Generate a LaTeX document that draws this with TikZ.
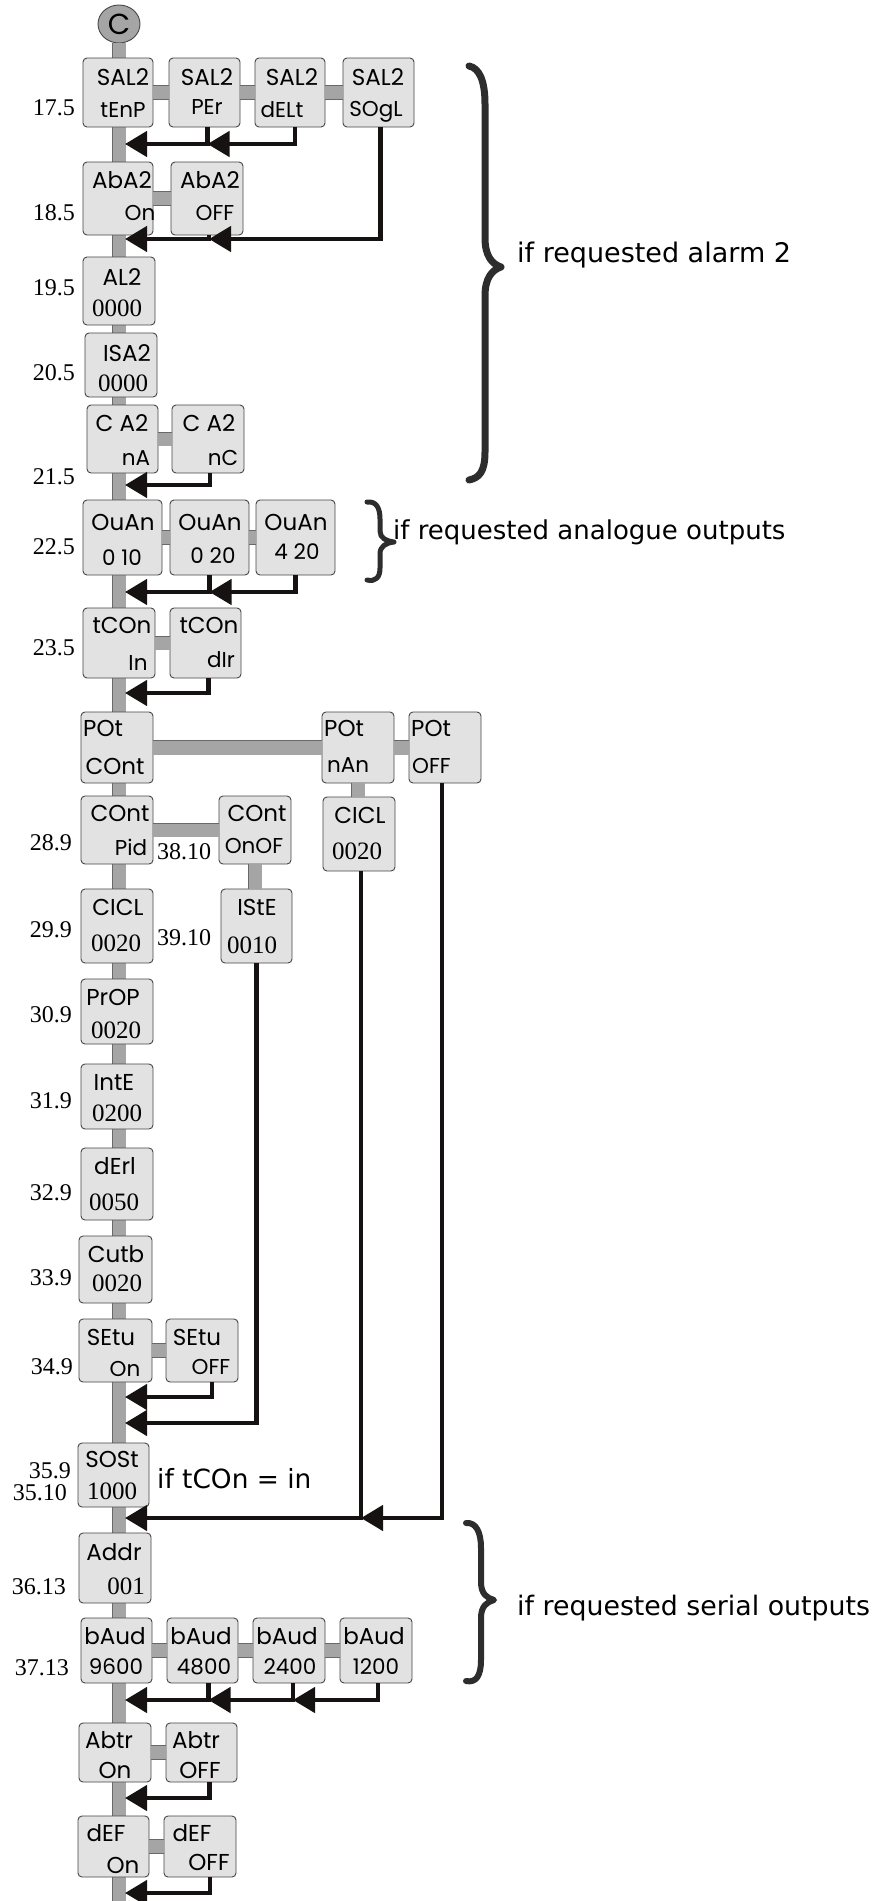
\documentclass[tikz,border=0pt]{standalone}
\usepackage{fontspec}
\usetikzlibrary{arrows.meta,shapes.geometric}
\newfontfamily\geo{Poppins}
\newfontfamily\ser{Liberation Serif}
\newfontfamily\com{DejaVu Sans}
\definecolor{boxfill}{RGB}{226,226,226}
\definecolor{boxline}{RGB}{70,70,70}
\definecolor{barfill}{RGB}{165,165,165}
\definecolor{barline}{RGB}{105,105,105}
\definecolor{arrowcol}{RGB}{22,18,18}
\definecolor{bracecol}{RGB}{45,45,45}
\tikzset{
 pbox/.style={draw=boxline, fill=boxfill, line width=0.9pt, rounded corners=4pt, inner sep=0pt, outer sep=0pt},
 gbar/.style={draw=barline, line width=0.6pt, double=barfill, double distance=13pt},
 sa/.style={font=\geo\fontsize{23}{23}\selectfont, inner sep=0pt},
 sb/.style={font=\geo\fontsize{21.5}{21.5}\selectfont, inner sep=0pt},
 sd/.style={font=\geo\fontsize{21.5}{21.5}\selectfont, inner sep=0pt},
 nb/.style={font=\ser\fontsize{25}{25}\selectfont, inner sep=0pt},
 lbl/.style={font=\ser\fontsize{24}{24}\selectfont, inner sep=0pt, anchor=east},
 lblw/.style={font=\ser\fontsize{24}{24}\selectfont, inner sep=0pt, anchor=west},
 note/.style={font=\com\fontsize{25}{25}\selectfont, inner sep=0pt, anchor=base west},
 arr/.style={draw=arrowcol, line width=4.5pt, -{Triangle[length=22pt,width=25pt]}},
 brc/.style={draw=bracecol, line width=7pt, line cap=round, line join=round},
}
\newcommand\pbx[5]{\node[pbox, minimum width={#4-#2}, minimum height={#5-#3}] (#1) at ({(#2+#4)/2},{(#3+#5)/2}) {};}
\begin{document}
\begin{tikzpicture}[x=1pt,y=-1pt]
\useasboundingbox (0,0) rectangle (877,1901);
\fill[white] (0,0) rectangle (877,1901);
% start circle and spine
\node[ellipse, draw=boxline, fill=barfill, line width=0.9pt, minimum width=42, minimum height=38, inner sep=0pt,
      font=\geo\fontsize{29}{29}\selectfont] (c) at (119,24) {C};
\coordinate (bot) at (119,1901);
\draw[gbar] (c.south) -- (bot);
% boxes
\pbx{r1a}{83}{58}{153}{127}
\pbx{r1b}{169}{58}{240}{127}
\pbx{r1c}{255}{58}{325}{127}
\pbx{r1d}{343}{58}{414}{127}
\pbx{r2a}{83}{162}{153}{235}
\pbx{r2b}{171}{162}{243}{235}
\pbx{al2}{83}{257}{155}{325}
\pbx{isa}{85}{333}{157}{397}
\pbx{ca1}{87}{405}{158}{473}
\pbx{ca2}{172}{405}{244}{473}
\pbx{ou1}{83}{500}{162}{575}
\pbx{ou2}{170}{500}{249}{575}
\pbx{ou3}{256}{500}{335}{575}
\pbx{tc1}{83}{608}{155}{678}
\pbx{tc2}{170}{608}{241}{678}
\pbx{po1}{81}{712}{153}{783}
\pbx{po2}{322}{712}{394}{783}
\pbx{po3}{409}{712}{481}{783}
\pbx{co1}{81}{796}{153}{864}
\pbx{co2}{219}{796}{291}{864}
\pbx{cl2}{323}{797}{395}{871}
\pbx{cl1}{81}{889}{153}{963}
\pbx{ist}{221}{889}{292}{963}
\pbx{prp}{81}{979}{153}{1044}
\pbx{int}{81}{1064}{153}{1129}
\pbx{der}{81}{1148}{153}{1220}
\pbx{cut}{79}{1236}{152}{1303}
\pbx{se1}{79}{1319}{152}{1382}
\pbx{se2}{166}{1319}{238}{1382}
\pbx{sos}{78}{1443}{149}{1507}
\pbx{adr}{79}{1533}{151}{1603}
\pbx{ba1}{81}{1618}{152}{1683}
\pbx{ba2}{167}{1618}{238}{1683}
\pbx{ba3}{253}{1618}{325}{1683}
\pbx{ba4}{340}{1618}{412}{1683}
\pbx{ab1}{79}{1723}{151}{1782}
\pbx{ab2}{166}{1723}{237}{1782}
\pbx{de1}{78}{1816}{149}{1877}
\pbx{de2}{164}{1816}{236}{1877}
% gray connectors
\draw[gbar] (r1a.east) -- (r1b.west);
\draw[gbar] (r1b.east) -- (r1c.west);
\draw[gbar] (r1c.east) -- (r1d.west);
\draw[gbar] (r2a.east) -- (r2b.west);
\draw[gbar] (ca1.east) -- (ca2.west);
\draw[gbar] (ou1.east) -- (ou2.west);
\draw[gbar] (ou2.east) -- (ou3.west);
\draw[gbar] (tc1.east) -- (tc2.west);
\draw[gbar, double distance=14pt] (po1.east) -- (po2.west);
\draw[gbar, double distance=14pt] (po2.east) -- (po3.west);
\draw[gbar] (co1.east) -- (co2.west);
\draw[gbar] (co2.south) -- (co2.south |- ist.north);
\draw[gbar] (po2.south) -- (po2.south |- cl2.north);
\draw[gbar] (se1.east) -- (se2.west);
\draw[gbar] (ba1.east) -- (ba2.west);
\draw[gbar] (ba2.east) -- (ba3.west);
\draw[gbar] (ba3.east) -- (ba4.west);
\draw[gbar] (ab1.east) -- (ab2.west);
\draw[gbar] (de1.east) -- (de2.west);
% box texts
\node[sa] (r1a-t) at (123,77) {SAL2}; \node[sb] (r1a-b) at (123,110) {tEnP};
\node[sa] (r1b-t) at (207,77) {SAL2}; \node[sb] (r1b-b) at (207,107) {PEr};
\node[sa] (r1c-t) at (292,77) {SAL2}; \node[sb] (r1c-b) at (282,110) {dELt};
\node[sa] (r1d-t) at (378,77) {SAL2}; \node[sb] (r1d-b) at (376,112) {SOgL};
\node[sa] (r2a-t) at (122,180) {AbA2}; \node[sb] (r2a-b) at (140,213) {On};
\node[sa] (r2b-t) at (210,180) {AbA2}; \node[sb] (r2b-b) at (215,213) {OFF};
\node[sa] (al2-t) at (122,277) {AL2}; \node[nb] (al2-b) at (117,308) {0000};
\node[sa] (isa-t) at (127,353) {ISA2}; \node[nb] (isa-b) at (123,383) {0000};
\node[sa] (ca1-t) at (122,423) {C A2}; \node[sb] (ca1-b) at (136,458) {nA};
\node[sa] (ca2-t) at (209,423) {C A2}; \node[sb] (ca2-b) at (223,458) {nC};
\node[sa] (ou1-t) at (123,522) {OuAn}; \node[sb] (ou1-b) at (122,558) {0 10};
\node[sa] (ou2-t) at (210,522) {OuAn}; \node[sb] (ou2-b) at (213,556) {0 20};
\node[sa] (ou3-t) at (296,522) {OuAn}; \node[sb] (ou3-b) at (297,552) {4 20};
\node[sa] (tc1-t) at (122,625) {tCOn}; \node[sb] (tc1-b) at (138,663) {In};
\node[sa] (tc2-t) at (209,625) {tCOn}; \node[sb] (tc2-b) at (221,660) {dIr};
\node[sa, anchor=west] (po1-t) at (83,728) {POt}; \node[sa] (po1-b) at (115,766) {COnt};
\node[sa, anchor=west] (po2-t) at (324,728) {POt}; \node[sb, anchor=west] (po2-b) at (327,765) {nAn};
\node[sa, anchor=west] (po3-t) at (411,728) {POt}; \node[sb, anchor=west] (po3-b) at (412,766) {OFF};
\node[sa] (co1-t) at (120,813) {COnt}; \node[sb] (co1-b) at (131,847) {Pid};
\node[sa] (co2-t) at (257,813) {COnt}; \node[sb] (co2-b) at (254,846) {OnOF};
\node[sa] (cl2-t) at (360,815) {CICL}; \node[nb] (cl2-b) at (357,851) {0020};
\node[sa] (cl1-t) at (118,907) {CICL}; \node[nb] (cl1-b) at (116,943) {0020};
\node[sa] (ist-t) at (257,907) {IStE}; \node[nb] (ist-b) at (252,945) {0010};
\node[sa] (prp-t) at (113,997) {PrOP}; \node[nb] (prp-b) at (116,1030) {0020};
\node[sa] (int-t) at (114,1082) {IntE}; \node[nb] (int-b) at (117,1113) {0200};
\node[sa] (der-t) at (115,1166) {dErl}; \node[nb] (der-b) at (114,1202) {0050};
\node[sa] (cut-t) at (116,1254) {Cutb}; \node[nb] (cut-b) at (117,1283) {0020};
\node[sa] (se1-t) at (111,1337) {SEtu}; \node[sb] (se1-b) at (125,1369) {On};
\node[sa] (se2-t) at (197,1337) {SEtu}; \node[sb] (se2-b) at (211,1367) {OFF};
\node[sa] (sos-t) at (112,1459) {SOSt}; \node[nb] (sos-b) at (112,1491) {1000};
\node[sa] (adr-t) at (114,1552) {Addr}; \node[nb] (adr-b) at (126,1586) {001};
\node[sa] (ba1-t) at (115,1636) {bAud}; \node[sd] (ba1-b) at (116,1667) {9600};
\node[sa] (ba2-t) at (201,1636) {bAud}; \node[sd] (ba2-b) at (204,1667) {4800};
\node[sa] (ba3-t) at (287,1636) {bAud}; \node[sd] (ba3-b) at (290,1667) {2400};
\node[sa] (ba4-t) at (374,1636) {bAud}; \node[sd] (ba4-b) at (376,1667) {1200};
\node[sa] (ab1-t) at (109,1740) {Abtr}; \node[sa] (ab1-b) at (115,1770) {On};
\node[sa] (ab2-t) at (196,1740) {Abtr}; \node[sa] (ab2-b) at (200,1770) {OFF};
\node[sa] (de1-t) at (106,1833) {dEF}; \node[sa] (de1-b) at (123,1865) {On};
\node[sa] (de2-t) at (192,1833) {dEF}; \node[sa] (de2-b) at (209,1862) {OFF};
% step labels
\node[lbl] (l175) at (75,108) {17.5};
\node[lbl] (l185) at (75,213) {18.5};
\node[lbl] (l195) at (75,288) {19.5};
\node[lbl] (l205) at (75,373) {20.5};
\node[lbl] (l215) at (75,477) {21.5};
\node[lbl] (l225) at (75,547) {22.5};
\node[lbl] (l235) at (75,648) {23.5};
\node[lbl] (l289) at (72,843) {28.9};
\node[lbl] (l299) at (72,930) {29.9};
\node[lblw] (l3810) at (157,852) {38.10};
\node[lblw] (l3910) at (157,938) {39.10};
\node[lbl] (l309) at (72,1015) {30.9};
\node[lbl] (l319) at (72,1101) {31.9};
\node[lbl] (l329) at (72,1193) {32.9};
\node[lbl] (l339) at (72,1278) {33.9};
\node[lbl] (l349) at (73,1367) {34.9};
\node[lbl] (l359) at (71,1471) {35.9};
\node[lbl] (l3510) at (67,1493) {35.10};
\node[lbl] (l3613) at (66,1587) {36.13};
\node[lbl] (l3713) at (69,1668) {37.13};
% return arrows
\coordinate (a1) at (125,144);
\coordinate (p1b) at ([xshift=3pt]r1b.south);
\coordinate (p1c) at ([xshift=5pt]r1c.south);
\draw[arr] (p1b) |- (a1);
\draw[arr] (p1c) |- (p1b |- a1);
\coordinate (a2) at (125,239);
\coordinate (p2b) at ([xshift=2pt]r2b.south);
\coordinate (p2d) at ([xshift=2pt]r1d.south);
\draw[arr] (p2b) |- (a2);
\draw[arr] (p2d) |- (p2b |- a2);
\coordinate (a3) at (125,485);
\coordinate (p3) at ([xshift=2pt]ca2.south);
\draw[arr] (p3) |- (a3);
\coordinate (a4) at (125,592);
\draw[arr] (ou2.south) |- (a4);
\draw[arr] (ou3.south) |- (ou2.south |- a4);
\coordinate (a5) at (125,693);
\coordinate (p5) at ([xshift=3pt]tc2.south);
\draw[arr] (p5) |- (a5);
\coordinate (a6) at (125,1397);
\coordinate (p6) at ([xshift=10pt]se2.south);
\draw[arr] (p6) |- (a6);
\coordinate (a7) at (125,1423);
\draw[arr] (ist.south) |- (a7);
\coordinate (a8) at (125,1518);
\coordinate (p8a) at ([xshift=2pt]cl2.south);
\coordinate (p8b) at ([xshift=-3pt]po3.south);
\draw[arr] (p8a) |- (a8);
\draw[arr] (p8b) |- (p8a |- a8);
\coordinate (a9) at (125,1700);
\coordinate (p9a) at ([xshift=6pt]ba2.south);
\coordinate (p9b) at ([xshift=4pt]ba3.south);
\coordinate (p9c) at ([xshift=2pt]ba4.south);
\draw[arr] (p9a) |- (a9);
\draw[arr] (p9b) |- (p9a |- a9);
\draw[arr] (p9c) |- (p9b |- a9);
\coordinate (a10) at (125,1798);
\coordinate (p10) at ([xshift=8pt]ab2.south);
\draw[arr] (p10) |- (a10);
\coordinate (a11) at (125,1893);
\coordinate (p11) at ([xshift=10pt]de2.south);
\draw[arr] (p11) |- (a11);
% braces and notes
\draw[brc] (469,66) .. controls (479,68) and (485,80) .. (485,104) -- (485,238) .. controls (485,256) and (492,264) .. (501,267) .. controls (492,270) and (485,278) .. (485,296) -- (485,452) .. controls (485,472) and (479,478) .. (469,480);
\node[note, font=\com\fontsize{27}{27}\selectfont] (n1) at (517,262) {if requested alarm 2};
\draw[brc, line width=5pt] (367,502) .. controls (377,501) and (380,509) .. (380,519) -- (380,531) .. controls (380,538) and (386,541) .. (394,542) .. controls (386,543) and (380,546) .. (380,554) -- (380,568) .. controls (380,577) and (376,582) .. (367,580);
\node[note, font=\com\fontsize{26}{26}\selectfont] (n2) at (393,539) {if requested analogue outputs};
\node[note, font=\com\fontsize{26.4}{26.4}\selectfont] (n3) at (157,1488) {if tCOn = in};
\draw[brc, line width=6pt] (466,1523) .. controls (476,1522) and (481,1532) .. (481,1548) -- (481,1582) .. controls (481,1594) and (487,1598) .. (494,1600) .. controls (487,1602) and (481,1606) .. (481,1618) -- (481,1660) .. controls (481,1676) and (476,1683) .. (466,1681);
\node[note, font=\com\fontsize{26.8}{26.8}\selectfont] (n4) at (517,1615) {if requested serial outputs};
\end{tikzpicture}
\end{document}
